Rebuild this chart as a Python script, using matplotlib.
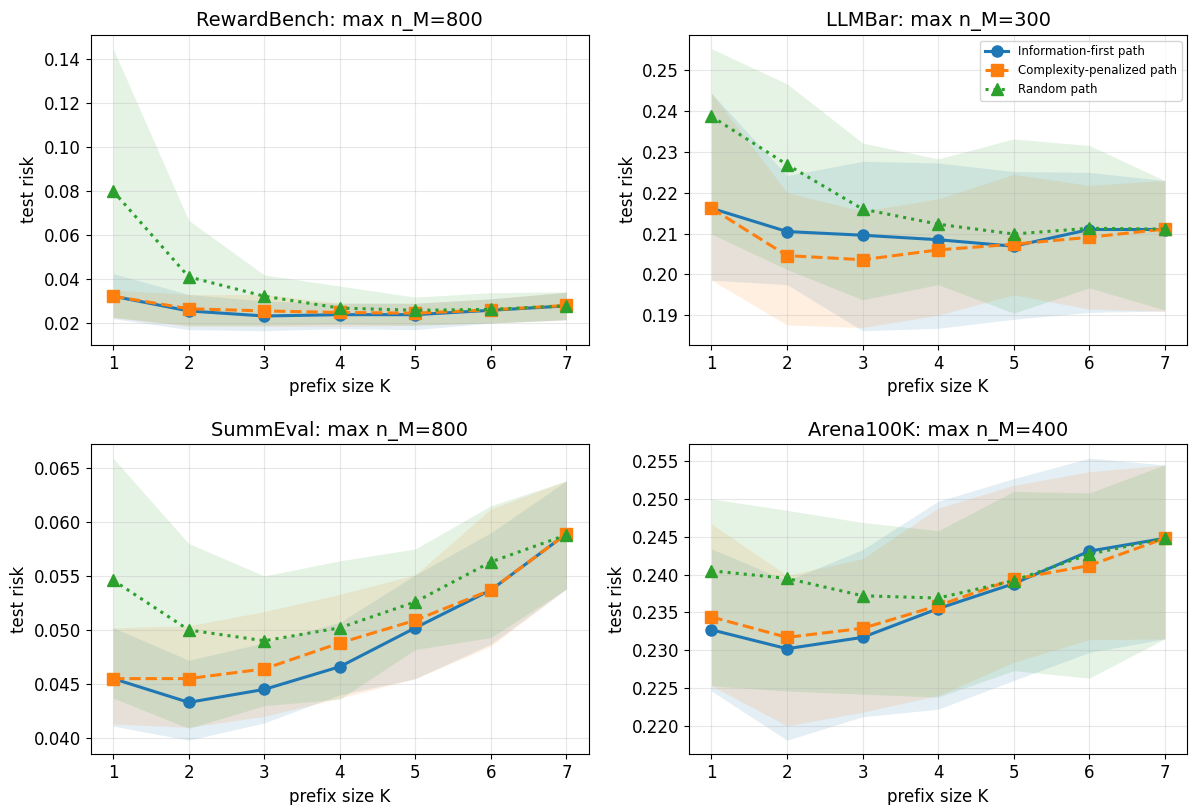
import numpy as np
import matplotlib.pyplot as plt

K = [1, 2, 3, 4, 5, 6, 7]

# RewardBench
rb_info = [0.0322, 0.0255, 0.0232, 0.0238, 0.0238, 0.0258, 0.0278]
rb_info_lo = [0.0220, 0.0170, 0.0165, 0.0175, 0.0170, 0.0200, 0.0215]
rb_info_hi = [0.0425, 0.0330, 0.0300, 0.0290, 0.0290, 0.0310, 0.0340]
rb_comp = [0.0322, 0.0265, 0.0255, 0.0248, 0.0245, 0.0260, 0.0280]
rb_comp_lo = [0.0225, 0.0185, 0.0185, 0.0185, 0.0190, 0.0200, 0.0215]
rb_comp_hi = [0.0350, 0.0330, 0.0330, 0.0290, 0.0290, 0.0310, 0.0340]
rb_rand = [0.0800, 0.0410, 0.0322, 0.0268, 0.0258, 0.0262, 0.0278]
rb_rand_lo = [0.0225, 0.0190, 0.0190, 0.0195, 0.0190, 0.0200, 0.0215]
rb_rand_hi = [0.1448, 0.0667, 0.0419, 0.0368, 0.0318, 0.0338, 0.0342]

# LLMBar
lb_info = [0.2162, 0.2105, 0.2096, 0.2085, 0.2069, 0.2110, 0.2110]
lb_info_lo = [0.1986, 0.1975, 0.1862, 0.1868, 0.1890, 0.1907, 0.1910]
lb_info_hi = [0.2444, 0.2242, 0.2277, 0.2273, 0.2252, 0.2250, 0.2230]
lb_comp = [0.2162, 0.2046, 0.2036, 0.2060, 0.2074, 0.2091, 0.2111]
lb_comp_lo = [0.1986, 0.1876, 0.1870, 0.1900, 0.1950, 0.1915, 0.1910]
lb_comp_hi = [0.2444, 0.2200, 0.2155, 0.2185, 0.2245, 0.2218, 0.2230]
lb_rand = [0.2387, 0.2269, 0.2160, 0.2123, 0.2099, 0.2113, 0.2111]
lb_rand_lo = [0.2099, 0.2012, 0.1938, 0.1975, 0.1905, 0.1967, 0.1913]
lb_rand_hi = [0.2553, 0.2467, 0.2322, 0.2283, 0.2332, 0.2316, 0.2230]

# SummEval
se_info = [0.0455, 0.0433, 0.0445, 0.0466, 0.0502, 0.0537, 0.0589]
se_info_lo = [0.0411, 0.0398, 0.0414, 0.0440, 0.0455, 0.0487, 0.0538]
se_info_hi = [0.0502, 0.0472, 0.0488, 0.0507, 0.0551, 0.0590, 0.0638]
se_comp = [0.0455, 0.0455, 0.0464, 0.0488, 0.0509, 0.0537, 0.0589]
se_comp_lo = [0.0413, 0.0410, 0.0420, 0.0437, 0.0455, 0.0485, 0.0538]
se_comp_hi = [0.0502, 0.0504, 0.0517, 0.0533, 0.0551, 0.0612, 0.0638]
se_rand = [0.0546, 0.0500, 0.0490, 0.0502, 0.0526, 0.0563, 0.0588]
se_rand_lo = [0.0437, 0.0409, 0.0430, 0.0436, 0.0482, 0.0493, 0.0538]
se_rand_hi = [0.0659, 0.0580, 0.0550, 0.0564, 0.0575, 0.0615, 0.0638]

# Arena100K
ar_info = [0.2327, 0.2302, 0.2317, 0.2355, 0.2388, 0.2431, 0.2448]
ar_info_lo = [0.2246, 0.2181, 0.2212, 0.2222, 0.2260, 0.2297, 0.2315]
ar_info_hi = [0.2434, 0.2392, 0.2433, 0.2497, 0.2527, 0.2554, 0.2545]
ar_comp = [0.2344, 0.2317, 0.2329, 0.2359, 0.2394, 0.2412, 0.2448]
ar_comp_lo = [0.2253, 0.2200, 0.2218, 0.2240, 0.2284, 0.2314, 0.2315]
ar_comp_hi = [0.2467, 0.2399, 0.2421, 0.2488, 0.2518, 0.2536, 0.2545]
ar_rand = [0.2405, 0.2395, 0.2372, 0.2369, 0.2392, 0.2427, 0.2448]
ar_rand_lo = [0.2253, 0.2246, 0.2242, 0.2238, 0.2273, 0.2263, 0.2315]
ar_rand_hi = [0.2500, 0.2485, 0.2469, 0.2458, 0.2510, 0.2508, 0.2545]

panels = [
    ("RewardBench: max n_M=800",
     [(rb_info, rb_info_lo, rb_info_hi), (rb_comp, rb_comp_lo, rb_comp_hi), (rb_rand, rb_rand_lo, rb_rand_hi)]),
    ("LLMBar: max n_M=300",
     [(lb_info, lb_info_lo, lb_info_hi), (lb_comp, lb_comp_lo, lb_comp_hi), (lb_rand, lb_rand_lo, lb_rand_hi)]),
    ("SummEval: max n_M=800",
     [(se_info, se_info_lo, se_info_hi), (se_comp, se_comp_lo, se_comp_hi), (se_rand, se_rand_lo, se_rand_hi)]),
    ("Arena100K: max n_M=400",
     [(ar_info, ar_info_lo, ar_info_hi), (ar_comp, ar_comp_lo, ar_comp_hi), (ar_rand, ar_rand_lo, ar_rand_hi)]),
]

labels = ["Information-first path", "Complexity-penalized path", "Random path"]
colors = ["#1f77b4", "#ff7f0e", "#2ca02c"]
markers = ["o", "s", "^"]
styles = ["-", "--", ":"]

fig, axes = plt.subplots(2, 2, figsize=(11.91, 8.05), dpi=100)
fig.subplots_adjust(left=0.076, right=0.997, top=0.957, bottom=0.063,
                    wspace=0.2, hspace=0.32)

for ax, (title, series) in zip(axes.flat, panels):
    for (mean, lo, hi), lab, c, m, ls in zip(series, labels, colors, markers, styles):
        ax.fill_between(K, lo, hi, color=c, alpha=0.12, linewidth=0)
        ax.plot(K, mean, linestyle=ls, marker=m, color=c, label=lab,
                linewidth=2.2, markersize=8)
    ax.set_title(title, fontsize=14)
    ax.set_xlabel("prefix size K", fontsize=12)
    ax.set_ylabel("test risk", fontsize=12)
    ax.set_xticks(K)
    ax.tick_params(labelsize=12)
    ax.grid(True, alpha=0.3)

axes[0, 1].legend(loc="upper right", fontsize=8.5)

plt.savefig("out.png", dpi=100)
